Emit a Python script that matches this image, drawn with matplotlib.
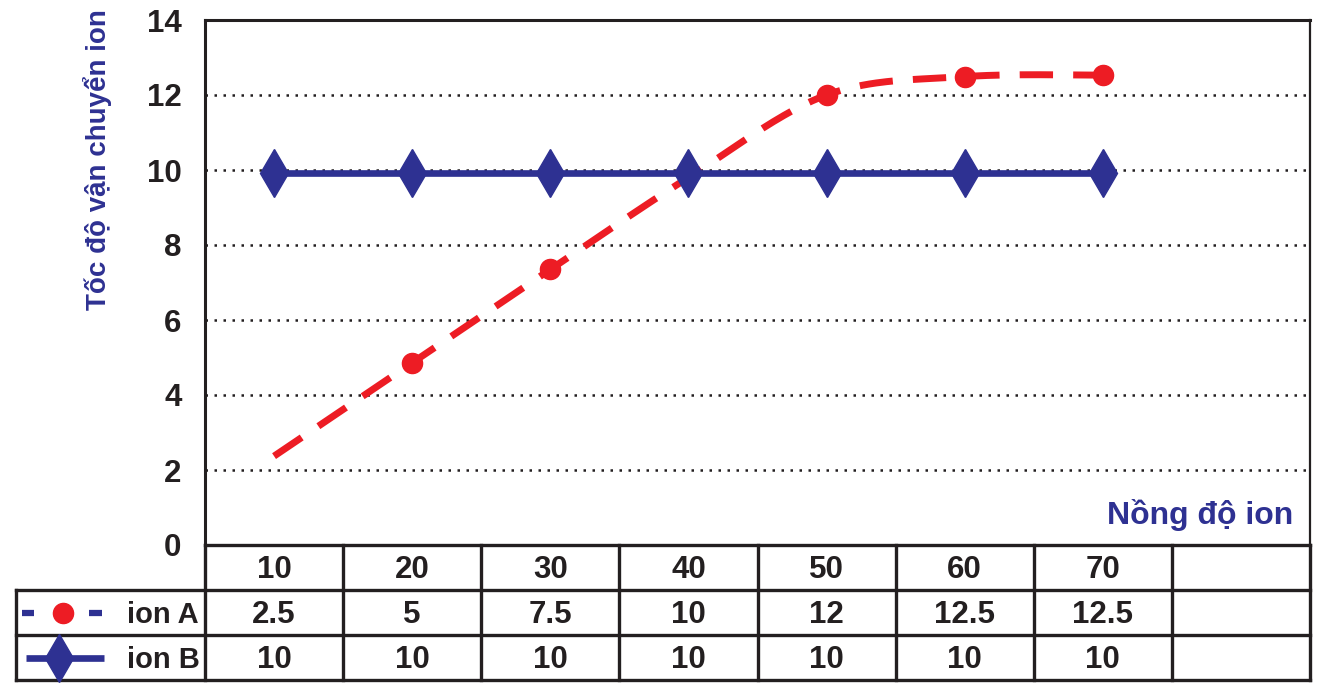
import numpy as np
import matplotlib
matplotlib.use("Agg")
import matplotlib.pyplot as plt

# ---- data ----
concentrations = ["10", "20", "30", "40", "50", "60", "70"]
ion_a_plot = [2.37, 4.86, 7.35, 9.8, 12.0, 12.49, 12.53]
ion_b_plot = [9.93, 9.93, 9.93, 9.93, 9.93, 9.93, 9.93]
ion_a_table = ["2.5", "5", "7.5", "10", "12", "12.5", "12.5"]
ion_b_table = ["10", "10", "10", "10", "10", "10", "10"]
series_names = ["ion A", "ion B"]
y_ticks = [0, 2, 4, 6, 8, 10, 12, 14]

BLUE = "#2E3192"
RED = "#ED1C24"
BLACK = "#231F20"
FONT = "Liberation Sans"
plt.rcParams["font.family"] = [FONT, "DejaVu Sans"]

W, H = 1321, 694
fig = plt.figure(figsize=(W / 100, H / 100), dpi=100)

L, R, T, B = 205, 1310, 20, 545
ax = fig.add_axes([L / W, (H - B) / H, (R - L) / W, (B - T) / H])
ncol = 8
ax.set_xlim(0, ncol)
ax.set_ylim(0, 14)
ax.set_xticks([])
ax.set_yticks(y_ticks)
ax.tick_params(axis="y", length=0, pad=17)
for lab in ax.get_yticklabels():
    lab.set_fontsize(22.5)
    lab.set_fontweight("bold")
    lab.set_color(BLACK)
for s in ["left", "top", "right"]:
    ax.spines[s].set_linewidth(2.2)
    ax.spines[s].set_color(BLACK)
ax.spines["right"].set_linewidth(1.6)
ax.spines["bottom"].set_visible(False)

for yv in y_ticks[1:-1]:
    ax.axhline(yv, color=BLACK, lw=1.8, linestyle=(0, (1, 2.6)), zorder=1)

xs = np.arange(len(concentrations)) + 0.5

# smoothed curve (Bezier smoothing like spreadsheet charts)
def smooth(x, y, n=40):
    P = np.column_stack([x, y])
    Pe = np.vstack([P[0], P, P[-1]])
    out = []
    for i in range(len(P) - 1):
        p0, p1, p2, p3 = Pe[i], Pe[i + 1], Pe[i + 2], Pe[i + 3]
        c1 = p1 + (p2 - p0) / 6
        c2 = p2 - (p3 - p1) / 6
        t = np.linspace(0, 1, n)[:, None]
        seg = ((1 - t) ** 3) * p1 + 3 * ((1 - t) ** 2) * t * c1 + 3 * (1 - t) * t ** 2 * c2 + t ** 3 * p2
        out.append(seg if i == 0 else seg[1:])
    seg = np.vstack(out)
    return seg[:, 0], seg[:, 1]

sx, sy = smooth(xs, np.array(ion_a_plot))
ax.plot(sx, sy, color=RED, lw=5, linestyle=(0, (4.8, 2.9)), dash_capstyle="butt", zorder=3)
mark_idx = [1, 2, 4, 5, 6]
ax.plot(xs[mark_idx], np.array(ion_a_plot)[mark_idx], linestyle="none", marker="o",
        ms=14.5, color=RED, zorder=3)

ax.plot(xs, ion_b_plot, color=BLUE, lw=4.8, marker="d", ms=24, mec=BLUE, mfc=BLUE, zorder=4)

ax.text((1293 - L) / (R - L), (B - 524) / (B - T), "Nồng độ ion", transform=ax.transAxes,
        ha="right", va="baseline", fontsize=23, fontweight="bold", color=BLUE)

fig.text(98 / W, (H - 160) / H, "Tốc độ vận chuyển ion", rotation=90, ha="center", va="center",
         fontsize=20, fontweight="bold", color=BLUE)

# ---- data table ----
TB = 680
tax = fig.add_axes([L / W, (H - TB) / H, (R - L) / W, (TB - B) / H])
tax.set_xlim(0, ncol)
tax.set_ylim(0, 3)
tax.axis("off")
colw = (R - L) / ncol
leg_left = (16 - L) / colw
lw_t = 2.4
kw = dict(color=BLACK, lw=lw_t, clip_on=False, solid_capstyle="projecting")
tax.plot([0, ncol], [3, 3], **kw)
for yv in [2, 1, 0]:
    tax.plot([leg_left, ncol], [yv, yv], **kw)
for xv in range(ncol + 1):
    tax.plot([xv, xv], [0, 3], **kw)
tax.plot([leg_left, leg_left], [0, 2], **kw)

tkw = dict(ha="center", va="center", fontsize=22.5, fontweight="bold", color=BLACK)
for i, c in enumerate(concentrations):
    tax.text(i + 0.5, 2.45, c, **tkw)
    tax.text(i + 0.5, 1.45, ion_a_table[i], **tkw)
    tax.text(i + 0.5, 0.45, ion_b_table[i], **tkw)

def px(x):
    return (x - L) / colw

# legend keys
tax.plot([px(22), px(34)], [1.5, 1.5], color=BLUE, lw=4.5, solid_capstyle="butt", clip_on=False)
tax.plot([px(89), px(102)], [1.5, 1.5], color=BLUE, lw=4.5, solid_capstyle="butt", clip_on=False)
tax.plot([px(63)], [1.5], marker="o", ms=14.5, color=RED, clip_on=False)
tax.plot([px(26), px(104)], [0.5, 0.5], color=BLUE, lw=4.8, solid_capstyle="butt", clip_on=False)
tax.plot([px(59)], [0.5], marker="d", ms=24, color=BLUE, clip_on=False)
for yv, name in zip([1.45, 0.45], series_names):
    tax.text(px(127), yv, name, ha="left", va="center", fontsize=21, fontweight="bold", color=BLACK)

fig.savefig("out.png", dpi=100)
